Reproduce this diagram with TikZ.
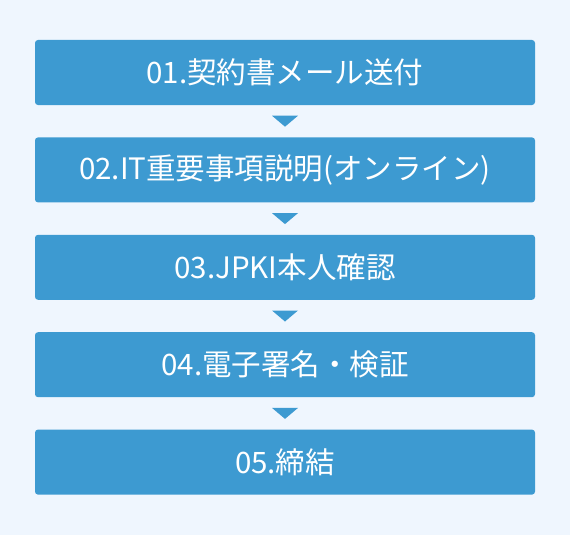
\documentclass[tikz,border=0pt]{standalone}
\usepackage{fontspec}
\newfontfamily\jpfont{Noto Sans CJK JP}
\definecolor{page}{RGB}{239,246,254}
\definecolor{stepblue}{RGB}{61,154,209}
\usetikzlibrary{positioning,calc}
\tikzset{
  stepbox/.style={fill=stepblue, rounded corners=3pt, text=white, inner sep=0pt,
              minimum width=500pt, minimum height=65pt, align=center,
              font=\jpfont\fontsize{29.5}{32}\selectfont},
  down/.style={fill=stepblue},
}

\begin{document}
\begin{tikzpicture}[x=1pt,y=-1pt]
        \fill[page] (0,0) rectangle (570,535);
        \useasboundingbox (0,0) rectangle (570,535);
        \node[stepbox] (s1) at (285,72.5) {01.契約書メール送付};
        \node[stepbox, below=32pt of s1] (s2) {02.IT重要事項説明(オンライン)};
        \node[stepbox, below=32pt of s2] (s3) {03.JPKI本人確認};
        \node[stepbox, below=32pt of s3] (s4) {04.電子署名・検証};
        \node[stepbox, below=32pt of s4] (s5) {05.締結};
        \coordinate (m1) at ($(s1.south)!0.5!(s2.north)$);
        \coordinate (m2) at ($(s2.south)!0.5!(s3.north)$);
        \coordinate (m3) at ($(s3.south)!0.5!(s4.north)$);
        \coordinate (m4) at ($(s4.south)!0.5!(s5.north)$);
        \fill[down] ($(m1)+(-13,-5.5)$) -- ($(m1)+(13,-5.5)$) -- ($(m1)+(0,5.5)$) -- cycle;
        \fill[down] ($(m2)+(-13,-5.5)$) -- ($(m2)+(13,-5.5)$) -- ($(m2)+(0,5.5)$) -- cycle;
        \fill[down] ($(m3)+(-13,-5.5)$) -- ($(m3)+(13,-5.5)$) -- ($(m3)+(0,5.5)$) -- cycle;
        \fill[down] ($(m4)+(-13,-5.5)$) -- ($(m4)+(13,-5.5)$) -- ($(m4)+(0,5.5)$) -- cycle;
      \end{tikzpicture}
\end{document}
